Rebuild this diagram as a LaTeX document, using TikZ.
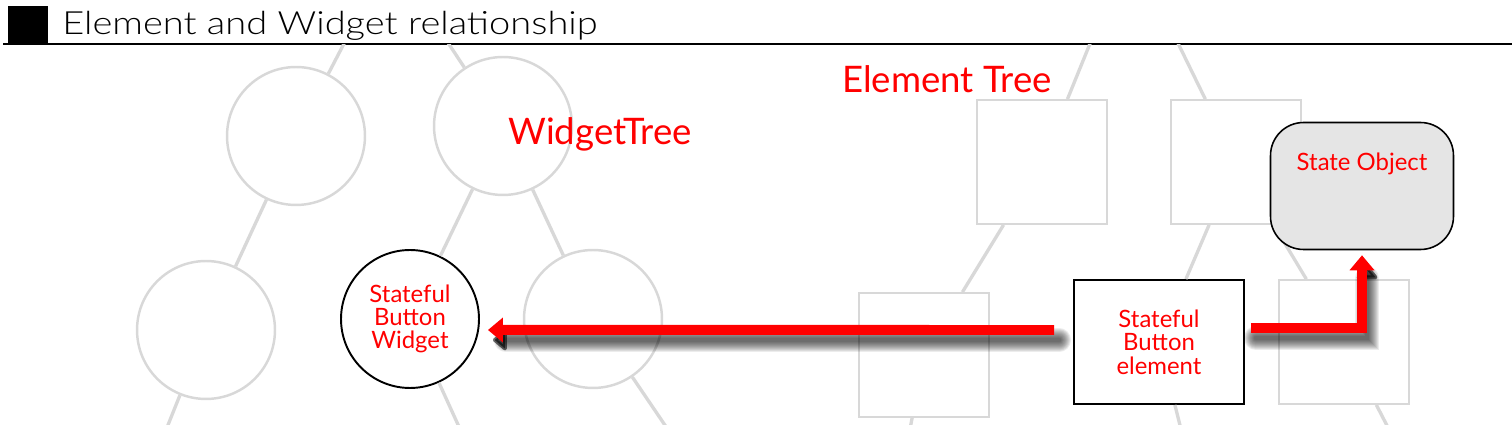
\documentclass[tikz,border=0pt]{standalone}
\usepackage{fontspec}
\setmainfont{Lato}
\newfontfamily\titlefont{Lato}[UprightFont=* Light, FakeStretch=1.19]
\usetikzlibrary{arrows.meta}

\definecolor{labelred}{RGB}{255,0,0}
\definecolor{treegray}{RGB}{216,216,216}
\definecolor{statefill}{RGB}{229,229,229}

\tikzset{
  wnode/.style={circle, draw=treegray, line width=1.4pt, fill=white, minimum size=2.76cm, inner sep=0pt},
  enode/.style={rectangle, draw=treegray, line width=1pt, fill=white, minimum width=2.6cm, minimum height=2.48cm, inner sep=0pt},
  treeline/.style={treegray, line width=1.9pt},
  nodetext/.style={text=labelred, font=\fontsize{13.6}{13.3}\selectfont, align=center},
  treelabel/.style={text=labelred, font=\fontsize{20.8}{24}\selectfont, anchor=base west, inner sep=0pt},
  redarrow/.style={labelred, line width=0.2cm, -{Triangle[length=0.3cm, width=0.48cm]}},
  arrowshadow/.style={black, opacity=0.075, line width=#1, line cap=round, -{Triangle[length=0.3cm, width=0.48cm, round]}}
}

\begin{document}
\begin{tikzpicture}[x=0.02cm, y=-0.02cm]
    \useasboundingbox (0,0) rectangle (1512,425);
    % title bar
    \fill (8,6) rectangle (48,44);
    \draw[line width=1.1pt] (3,44) -- (1512,44);
    \node[anchor=base west, inner sep=0pt, font=\titlefont\fontsize{18.2}{20}\selectfont] (title) at (62,35) {Element and Widget relationship};

    \begin{scope}
    \clip (0,45) rectangle (1512,425);
    % widget tree
    \coordinate (wroot) at (390,-45);
    \coordinate (wCc) at (160,445);
    \coordinate (wBtnc) at (465,440);
    \coordinate (wDc) at (675,440);
    \node[wnode] (wA) at (296,136) {};
    \node[wnode] (wB) at (503,126) {};
    \node[wnode] (wC) at (206,330) {};
    \node[wnode, draw=black, line width=1.1pt, nodetext] (wBtn) at (410,319) {Stateful\\Button\\Widget};
    \node[wnode] (wD) at (593,319) {};
    \draw[treeline] (wroot) -- (wA) (wroot) -- (wB);
    \draw[treeline] (wA) -- (wC) (wB) -- (wBtn) (wB) -- (wD);
    \draw[treeline] (wC) -- (wCc) (wBtn) -- (wBtnc) (wD) -- (wDc);
    % element tree
    \coordinate (eroot) at (1130,-55);
    \coordinate (eCc) at (907,445);
    \coordinate (eBtnc) at (1185,445);
    \coordinate (eDc) at (1397,445);
    \node[enode] (eA) at (1042,162) {};
    \node[enode] (eB) at (1236,162) {};
    \node[enode] (eC) at (924,355) {};
    \node[enode, draw=black, line width=1.1pt, minimum width=3.4cm, nodetext] (eBtn) at (1159,342) {Stateful\\Button\\element};
    \node[enode] (eD) at (1344,342) {};
    \draw[treeline] (eroot) -- (eA) (eroot) -- (eB);
    \draw[treeline] (eA) -- (eC) (eB) -- (eBtn) (eB) -- (eD);
    \draw[treeline] (eC) -- (eCc) (eBtn) -- (eBtnc) (eD) -- (eDc);
    \end{scope}

    \node[draw=black, line width=0.9pt, fill=statefill, rounded corners=0.66cm, minimum width=3.66cm, minimum height=2.54cm] (state) at (1362,186) {};
    \node[nodetext, anchor=base] (statetxt) at ([yshift=-0.98cm]state.north) {State Object};

    % arrows with soft shadow
    \begin{scope}[transform canvas={xshift=0.1cm, yshift=-0.2cm}]
    \foreach \w in {0.08,0.12,...,0.48}{
        \draw[arrowshadow=\w cm, shorten <=0.38cm, shorten >=0.16cm] ([yshift=0.24cm]eBtn.west) -- ([yshift=-0.22cm]wBtn.east);
        \draw[arrowshadow=\w cm, shorten <=0.12cm, shorten >=0.1cm] ([yshift=0.28cm]eBtn.east) -| (state.south);
    }
    \end{scope}
    \draw[redarrow, shorten <=0.38cm, shorten >=0.16cm] ([yshift=0.24cm]eBtn.west) -- ([yshift=-0.22cm]wBtn.east);
    \draw[redarrow, shorten <=0.12cm, shorten >=0.1cm] ([yshift=0.28cm]eBtn.east) -| (state.south);

    \node[treelabel] (wlabel) at (508,145) {WidgetTree};
    \node[treelabel] (elabel) at (842,93) {Element Tree};
\end{tikzpicture}
\end{document}
